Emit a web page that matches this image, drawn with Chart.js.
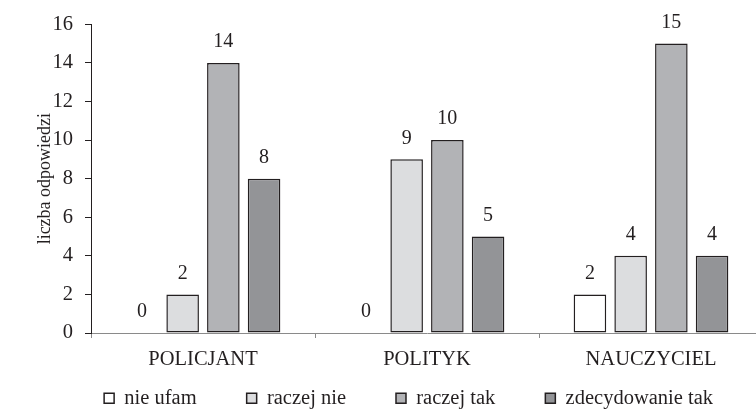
<!DOCTYPE html>
<html>
<head>
<meta charset="utf-8">
<script src="https://cdn.jsdelivr.net/npm/chart.js@4.4.1/dist/chart.umd.min.js"></script>
<style>
    html, body { margin: 0; padding: 0; background: #fff; overflow: hidden; }
    #wrap { width: 756px; height: 413px; overflow: hidden; }
</style>
</head>
<body>
<div id="wrap"><canvas id="barChart" width="764" height="413"></canvas></div>
<script>
// dane
const kategorie = ['POLICJANT', 'POLITYK', 'NAUCZYCIEL'];
const nieUfam = [0, 0, 2];
const raczejNie = [2, 9, 4];
const raczejTak = [14, 10, 15];
const zdecydowanieTak = [8, 5, 4];
const osY = { min: 0, max: 16, krok: 2 };

const czcionka = '"Liberation Serif", "Times New Roman", serif';
const tekst = '#231f20';
const ramka = '#231f20';

Chart.defaults.font.family = czcionka;
Chart.defaults.font.size = 20;
Chart.defaults.color = tekst;

// liczby nad slupkami
const wartosci = {
    id: 'wartosci',
    afterDatasetsDraw(chart) {
        const ctx = chart.ctx;
        ctx.save();
        ctx.font = '20px ' + czcionka;
        ctx.fillStyle = tekst;
        ctx.textAlign = 'center';
        ctx.textBaseline = 'middle';
        chart.data.datasets.forEach((ds, i) => {
            chart.getDatasetMeta(i).data.forEach((bar, j) => {
                ctx.fillText(ds.data[j], bar.x, bar.y - 21);
            });
        });
        ctx.restore();
    }
};

const ctx = document.getElementById('barChart').getContext('2d');

const chart = new Chart(ctx, {
    type: 'bar',
    data: {
        labels: kategorie,
        datasets: [
            { label: 'nie ufam', data: nieUfam, backgroundColor: '#ffffff' },
            { label: 'raczej nie', data: raczejNie, backgroundColor: '#dcdddf' },
            { label: 'raczej tak', data: raczejTak, backgroundColor: '#b2b3b6' },
            { label: 'zdecydowanie tak', data: zdecydowanieTak, backgroundColor: '#939497' }
        ].map(d => Object.assign(d, {
            borderColor: ramka,
            borderWidth: 1.5,
            borderSkipped: false,
            categoryPercentage: 0.727,
            barPercentage: 0.8
        }))
    },
    options: {
        responsive: false,
        devicePixelRatio: 1,
        animation: false,
        layout: {
            padding: { top: 17, left: 22, right: 1, bottom: 0 }
        },
        scales: {
            x: {
                grid: {
                    drawOnChartArea: false,
                    drawTicks: true,
                    tickLength: 5,
                    color: '#8a8a8a'
                },
                border: { color: '#8a8a8a', width: 1 },
                // mirror = etykiety bez przycinania do wysokosci osi
                ticks: { mirror: true, padding: -39, color: tekst, font: { size: 20.5 } },
                afterFit(s) { s.height = 5; }
            },
            y: {
                min: osY.min,
                max: osY.max,
                ticks: { stepSize: osY.krok, padding: 12, color: tekst, font: { size: 20.5 } },
                grid: {
                    drawOnChartArea: false,
                    drawTicks: true,
                    tickLength: 6,
                    color: ramka
                },
                border: { color: ramka, width: 1 },
                title: {
                    display: true,
                    text: 'liczba odpowiedzi',
                    color: tekst,
                    font: { size: 18 },
                    padding: { top: 12, bottom: 0 }
                },
                afterFit(s) { s.width = 69; }
            }
        },
        plugins: {
            legend: {
                position: 'bottom',
                align: 'end',
                maxHeight: 75,
                labels: {
                    boxWidth: 10,
                    boxHeight: 10,
                    padding: 50,
                    color: tekst,
                    font: { size: 20.5 }
                }
            },
            tooltip: { enabled: false }
        }
    },
    plugins: [wartosci]
});
</script>
</body>
</html>
